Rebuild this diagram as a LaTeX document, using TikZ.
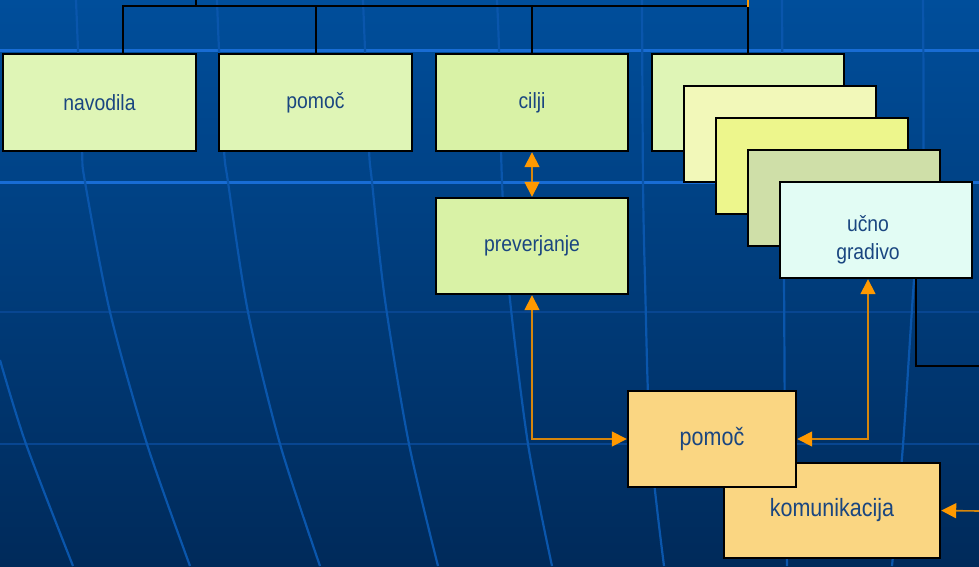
\documentclass[tikz,border=0pt]{standalone}
\usepackage{fontspec}
\setmainfont{Liberation Sans}
\newfontfamily\topfont[FakeStretch=0.88]{Liberation Sans}
\newfontfamily\orfont[FakeStretch=0.86]{Liberation Sans}
\usetikzlibrary{arrows.meta}
\definecolor{bgtop}{RGB}{0,78,155}
\definecolor{bgbot}{RGB}{0,42,90}
\definecolor{gridc}{RGB}{10,86,172}
\definecolor{gridf}{RGB}{8,70,145}
\definecolor{gridb}{RGB}{24,108,212}
\definecolor{txtc}{RGB}{26,70,128}
\definecolor{gA}{RGB}{223,245,182}
\definecolor{gB}{RGB}{217,242,166}
\definecolor{gC}{RGB}{242,248,185}
\definecolor{gD}{RGB}{237,246,140}
\definecolor{gE}{RGB}{207,223,168}
\definecolor{gF}{RGB}{226,252,244}
\definecolor{orb}{RGB}{250,214,130}
\definecolor{olin}{RGB}{214,134,12}
\definecolor{otip}{RGB}{255,153,0}
\begin{document}
\begin{tikzpicture}[x=1pt,y=-1pt,
  >={Triangle[length=15pt,width=15pt,color=otip]},
  box/.style={draw=black, line width=2.4pt, minimum width=192pt, minimum height=96pt,
    inner sep=0pt, text=txtc, align=center, font=\topfont\fontsize{22}{28}\selectfont},
  obox/.style={box, fill=orb, font=\orfont\fontsize{25}{28}\selectfont},
  bline/.style={draw=black, line width=2pt},
  oline/.style={draw=olin, line width=1.6pt},
  gline/.style={draw=gridc, line width=2.2pt},
  gfaint/.style={draw=gridf, line width=2.5pt},
  gbright/.style={draw=gridb, line width=3pt}]
% background
\shade[top color=bgtop, bottom color=bgbot] (0,0) rectangle (979,566);
\useasboundingbox (0,0) rectangle (979,566);
% globe grid
\draw[gbright] (0,50) -- (979,50);
\draw[gbright] (0,182) -- (979,182);
\draw[gfaint] (0,312) -- (979,312);
\draw[gfaint] (0,444) -- (979,444);
\draw[gline] plot[smooth] coordinates {(76,0) (78,50) (82,150) (85,182) (110,312) (147,444) (190,566)};
\draw[gline] plot[smooth] coordinates {(217,0) (219,50) (224,150) (228,182) (248,312) (280,444) (320,566)};
\draw[gline] plot[smooth] coordinates {(363,0) (365,50) (369,150) (372,182) (385,300) (409,444) (438,566)};
\draw[gline] plot[smooth] coordinates {(497,0) (499,50) (502,182) (509,290) (528,444) (552,566)};
\draw[gline] plot[smooth] coordinates {(642,0) (643,182) (645,280) (650,438) (664,566)};
\draw[gline] plot[smooth] coordinates {(782,0) (783,182) (784,280) (785,438) (787,566)};
\draw[gline] plot[smooth] coordinates {(923,0) (923,182) (914,280) (903,445) (892,566)};
\draw[gline] plot[smooth] coordinates {(0,360) (26,444) (73,566)};
% boxes
\node[box, fill=gA, minimum width=193pt, minimum height=97pt] (nav) at (99.5,102.5) {navodila};
\node[box, fill=gA, minimum width=193pt, minimum height=97pt] (pom) at (315.5,102.5) {pomoč};
\node[box, fill=gB, minimum height=97pt] (cil) at (532,102.5) {cilji};
\node[box, fill=gA, minimum height=97pt] (b1) at (748,102.5) {};
\node[box, fill=gC] (b2) at (780,134) {};
\node[box, fill=gD] (b3) at (812,166) {};
\node[box, fill=gE] (b4) at (844,198) {};
\node[box, fill=gF] (b5) at (876,230) {};
\node[text=txtc, align=center, font=\topfont\fontsize{22}{28}\selectfont, inner sep=0pt] (b5t) at (868,240) {učno\\gradivo};
\node[box, fill=gB] (prev) at (532,246) {preverjanje};
\node[obox, minimum width=216pt, minimum height=95pt] (kom) at (832,510.5) {komunikacija};
\node[obox, minimum width=168pt] (pom2) at (712,439) {pomoč};
% black connectors
\coordinate (topin) at (196,0);
\coordinate (busL) at (123,6);
\coordinate (busR) at (748,6);
\coordinate (otop) at (748,0);
\coordinate (rb) at (979,366);
\draw[bline] (busL |- nav.north) -- (busL) -- (busR) -- (b1.north);
\draw[bline] (pom.north) -- (pom.north |- busL);
\draw[bline] (cil.north) -- (cil.north |- busL);
\draw[bline] (topin) -- (topin |- busL);
\draw[draw=otip, line width=2pt] (otop) -- ([yshift=-1pt]busR);
\draw[bline] ([xshift=40pt]b5.south) |- (rb);
% orange connectors
\coordinate (gsouth) at ([xshift=-8pt]b5.south);
\coordinate (kin) at (979,511);
\draw[oline, <->] (cil.south) -- (prev.north);
\draw[oline, <->] (prev.south) |- (pom2.west);
\draw[oline, <->] (gsouth) |- (pom2.east);
\draw[oline, ->] (kin) -- (kom.east);
\end{tikzpicture}
\end{document}
